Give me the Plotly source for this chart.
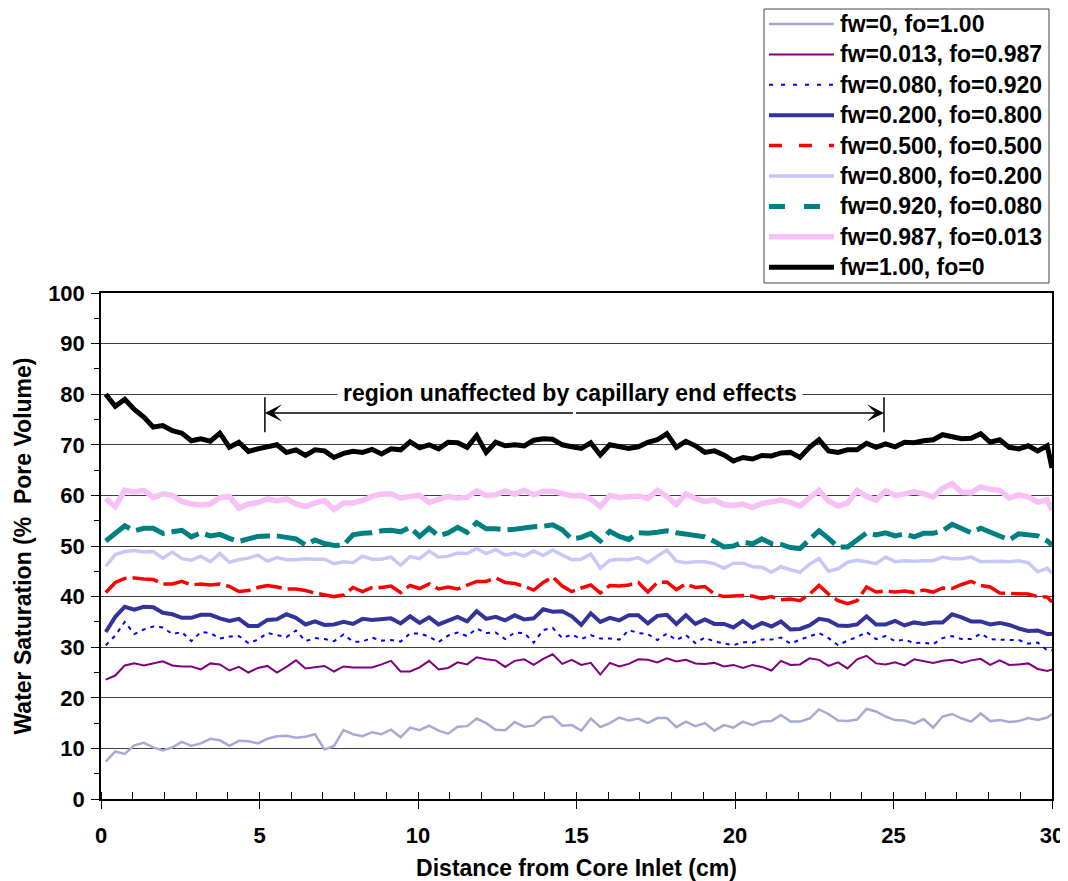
import plotly.graph_objects as go

# x positions (cm) of the sampled profile points
distance_cm = [round(0.15 + 0.3 * i, 2) for i in range(100)] + [30.0]

sw_fw0 = [7.4, 9.4, 8.9, 10.6, 11.1, 10.2, 9.6, 10.2, 11.3, 10.5, 11, 11.9, 11.6, 10.5, 11.5, 11.4, 11, 11.9, 12.4, 12.5,
          12.1, 12.3, 12.8, 9.8, 10.5, 13.6, 12.8, 12.4, 13.2, 12.8, 13.7, 12.2, 14.1, 13.6,
          14.5, 13.5, 12.9, 14.3, 14.4, 15.9, 15, 13.7, 13.6, 15.2, 14.3, 14.5, 16.1, 16.3, 14.5, 14.6, 13.5, 15.9, 14.2, 15,
          16.1, 15.5, 15.9, 15, 16, 16, 14.2, 15.3, 14.4, 15, 13.5, 14.6, 14.1,
          15.3, 14.6, 15.3, 15.4, 16.6, 15.3, 15.3, 15.9, 17.7, 16.8, 15.5, 15.4, 15.7, 17.8, 17.3, 16.3, 15.6, 15.5, 14.9, 15.8,
          14.1, 16.3, 16.8, 15.9, 15.3, 16.9, 15.4, 15.6, 15.2, 15.4, 16, 15.6, 16.1, 16.8]

sw_fw0013 = [23.6, 24.4, 26.4, 26.8, 26.4, 26.8, 27.2, 26.4, 26.2, 26.2, 25.6, 26.8, 26.6, 25.4, 26.1, 25, 25.9, 26.3, 25, 26.1,
             27.4, 25.8, 26.1, 26.3, 25.2, 26.2, 26, 26, 26, 26.6, 27.3, 25.2, 25.2, 26,
             27.3, 25.6, 25.9, 27, 26.6, 28, 27.6, 27.4, 26.1, 27.3, 27.6, 26.5, 27.7, 28.6, 26.7, 27.5, 26.5, 26.9, 24.6, 26.9,
             26.2, 26.7, 27.6, 27.5, 27, 27.8, 27.2, 27.5, 26.8, 26.7, 26.9, 26.2, 26.5,
             25.9, 26.5, 26.1, 25.4, 27.3, 26.5, 26.6, 27.8, 27.5, 26.3, 27, 25.8, 27.6, 28.3, 26.8, 26.6, 27, 26.4, 27.6, 27.2,
             26.9, 27.3, 27.5, 26.9, 27.4, 27.7, 26.5, 27.4, 26.5, 26.6, 26.8, 25.7, 25.3, 25.6]

sw_fw008 = [30.4, 32.3, 35, 32.6, 33.5, 34.1, 33.9, 32.6, 33, 31.2, 33, 32.8, 31.7, 32.1, 32.2, 30.8, 31.5, 32.8, 32.4, 32,
            33.3, 31.2, 31.8, 31.6, 31.2, 32.5, 31.1, 31.1, 31.9, 31.3, 31.4, 31.1, 32.7, 32.7,
            32.1, 31, 32.3, 32.9, 32.2, 33.7, 32.8, 32.9, 31.6, 32.9, 32.8, 30.9, 33.4, 33.8, 31.8, 32.5, 31.6, 32.4, 31.7, 31.7,
            31.5, 33.4, 32.8, 32.6, 31.4, 32.7, 31.4, 32.4, 30.8, 31.9, 31.1, 30.7, 30.4,
            31, 30.9, 31.5, 31.5, 31.9, 30.7, 31.5, 32.2, 32.8, 31.8, 30.4, 31.3, 32, 33, 31.6, 32.2, 31.2, 31.5, 30.8, 30.9,
            30.6, 31.8, 32.2, 31.6, 31.6, 32.7, 31.6, 31.5, 31.4, 31.4, 30.7, 30.9, 29.4, 29.4]

sw_fw020 = [33, 36, 38, 37.4, 38, 37.9, 36.8, 36.5, 35.8, 35.8, 36.4, 36.4, 35.7, 35.2, 35.6, 34.2, 34.2, 35.4, 35.5, 36.5,
            35.8, 34.5, 35.1, 34.4, 34.5, 35, 34.6, 35.6, 35.4, 35.6, 35.7, 34.7, 36.1, 34.8,
            35.9, 34.5, 35.3, 36, 35.1, 37.1, 35.6, 36, 35.3, 36.3, 35.5, 35.7, 37.5, 37, 37.1, 36.1, 34.4, 36.7, 35, 35.8,
            35.3, 36.3, 36.3, 34.7, 36.2, 36.4, 34.6, 36.3, 34.6, 35.5, 34.6, 34.6, 33.9,
            35.2, 33.8, 34.8, 34.1, 35.1, 33.5, 33.6, 34.3, 35.6, 35.3, 34.3, 34.2, 34.5, 36.1, 34.5, 34.5, 35.2, 34.3, 34.9, 34.6,
            34.9, 34.9, 36.5, 35.9, 35.1, 35.1, 34.5, 34.8, 34.4, 33.7, 33.2, 33.3, 32.6, 32.6]

sw_fw050 = [40.8, 42.8, 43.6, 43.7, 43.5, 43.4, 42.5, 42.5, 43, 42.3, 42.5, 42.3, 42.5, 42, 41, 41.2, 41.8, 42.2, 41.9, 41.5,
            41.5, 41.2, 40.7, 40.4, 40, 40.3, 41.8, 41, 41.8, 41.8, 42.1, 40.8, 42.2, 41.6,
            42.5, 41.5, 41.9, 41.5, 42.2, 43, 43, 43.7, 42.8, 42.6, 42, 41.3, 42.8, 43.9, 42.1, 41, 41.7, 42.3, 40.7, 42.2,
            42.1, 42.3, 42.8, 40.9, 42.8, 42.9, 41.4, 42.5, 41.8, 42, 40.5, 40, 40.1,
            40.2, 40.1, 39.6, 40, 39.4, 39.5, 39.2, 40.5, 42.2, 40.5, 39.2, 38.6, 39.2, 41.9, 40.9, 41.1, 40.9, 41.1, 40.8, 41.3,
            40.9, 41.7, 41.6, 42.4, 43, 42.2, 41.9, 40.7, 40.6, 40.5, 40.5, 40, 39.9, 38.9]

sw_fw080 = [46, 48.3, 48.9, 49.1, 48.8, 48.9, 47.6, 48.8, 47.5, 47.2, 48, 46.9, 48.5, 46.8, 47.3, 47.6, 48.2, 47, 47.7, 47.3,
            47.3, 47.5, 47.4, 47.4, 46.5, 46.9, 46.7, 48, 47.4, 47.4, 47.8, 46.2, 47.9, 47.5,
            49, 47.8, 48, 48.6, 48.5, 49.5, 48.5, 49.3, 48.2, 48.6, 48, 49, 48.1, 49.2, 48.2, 47.3, 47.4, 48.4, 45.6, 47.2,
            47.4, 47.3, 47.7, 46.7, 48, 49.2, 47, 46.7, 46.9, 46.9, 46.5, 45.6, 46.6,
            46.6, 45.9, 45.8, 44.8, 45.9, 45.3, 44.8, 46.4, 47.5, 45, 45.5, 46.8, 47.2, 46.9, 46.5, 47.8, 46.9, 47.1, 47, 47.1,
            47.1, 47.8, 47.5, 47.5, 47.8, 46.9, 47, 47, 46.9, 47.1, 46.7, 44.9, 45.6, 44.6]

sw_fw092 = [51, 52.5, 54, 53, 53.5, 53.5, 52.5, 52.8, 53.1, 51.8, 52.6, 52, 52.3, 51.5, 50.9, 51.4, 51.9, 52, 52, 51.7,
            51.4, 50.2, 51.2, 50.5, 50.1, 50.2, 52.2, 52.5, 52.6, 53, 53.1, 52.8, 53.7, 51.9,
            53.5, 52, 52.6, 53.7, 52.7, 54.6, 53.4, 53.4, 53.2, 53.3, 53.6, 53.8, 53.9, 54.2, 53.2, 51.4, 51.7, 52.5, 51, 52.9,
            51.9, 51.3, 52.6, 52.5, 52.7, 53, 52.6, 52.4, 52.1, 51.8, 50.9, 49.8, 50,
            50.8, 50.4, 51.4, 50.5, 50.3, 49.7, 49.5, 51.3, 53, 51.5, 49.8, 49.8, 51.3, 52.6, 52.2, 52.6, 52, 52.4, 51.8, 52.5,
            52.5, 53, 54.3, 53.4, 52.6, 53.5, 52.8, 52, 51.2, 52.4, 52.2, 52, 51, 50.2]

sw_fw0987 = [59.3, 57.8, 61, 60.7, 61, 59.6, 60.3, 60, 58.8, 58.3, 58.1, 58.3, 59.6, 59.8, 57.5, 58.3, 58.6, 59.3, 58.9, 59.3,
             58.3, 57.8, 58.5, 59, 57.2, 58.5, 58.5, 59, 59.8, 60.3, 60.3, 59.5, 59.8, 60,
             58.6, 59.3, 59.8, 59.5, 59.6, 60.9, 60, 60.1, 60.9, 60.2, 61, 60.1, 60.8, 60.8, 60.3, 59.9, 60, 59.3, 57.8, 60,
             59.6, 59.8, 59.9, 59.4, 61, 59.8, 58.2, 60.3, 59.4, 58.8, 59.1, 58.2, 58,
             58.3, 57.6, 58.4, 58.7, 59.1, 58.6, 57.9, 59.5, 61, 58.9, 57.9, 58.5, 61, 59.8, 59.1, 60.9, 60, 60.3, 60.7, 60.3,
             59.7, 61.4, 62.3, 60.6, 60.5, 61.7, 61.2, 61, 59.5, 60.1, 59.7, 58.7, 59.1, 57.1]

sw_fw100 = [80, 77.6, 79, 77, 75.5, 73.5, 73.8, 72.8, 72.3, 70.8, 71.2, 70.7, 72.3, 69.5, 70.5, 68.7, 69.2, 69.5, 70, 68.5,
            69, 67.9, 69, 68.8, 67.5, 68.3, 68.7, 68.5, 69.1, 68.2, 69.2, 69, 70.6, 69.4,
            70, 69.2, 70.5, 70.4, 69.5, 71.8, 68.5, 70.5, 69.8, 70, 69.8, 70.9, 71.2, 71.1, 70, 69.6, 69.3, 70.4, 68, 70,
            69.6, 69.3, 69.6, 70.5, 71, 72.2, 69.5, 70.7, 69.8, 68.5, 68.8, 68, 66.8,
            67.5, 67.2, 67.9, 67.8, 68.4, 68.5, 67.5, 69.5, 71, 68.8, 68.5, 69, 69, 70.3, 69.5, 70.2, 69.6, 70.5, 70.4, 70.8,
            71, 72, 71.5, 71.2, 71.3, 72.2, 70.5, 71, 69.5, 69.2, 69.8, 68.8, 69.8, 65.4]

series_names = ["fw=0, fo=1.00", "fw=0.013, fo=0.987", "fw=0.080, fo=0.920", "fw=0.200, fo=0.800",
                "fw=0.500, fo=0.500", "fw=0.800, fo=0.200", "fw=0.920, fo=0.080", "fw=0.987, fo=0.013",
                "fw=1.00, fo=0"]

region_label = "region unaffected by capillary end effects"
region_start, region_end = 5.17, 24.7

FONT = "Arial, Liberation Sans, sans-serif"

# (colour, width, dash used on the plot, dash used in the legend sample)
styles = [
    ("#a9a9d6", 2.5, "solid", "solid"),
    ("#800080", 2, "solid", "solid"),
    ("#0000ff", 2, "4px,5px", "4px,8px"),
    ("#333399", 4, "solid", "solid"),
    ("#ff0000", 3.5, "26px,6px", "13px,17px"),
    ("#c8c8f8", 3.5, "solid", "solid"),
    ("#008080", 5, "30px,7px", "16px,19px"),
    ("#f7c0f7", 5.5, "solid", "solid"),
    ("#000000", 5, "solid", "solid"),
]
all_series = [sw_fw0, sw_fw0013, sw_fw008, sw_fw020, sw_fw050, sw_fw080, sw_fw092, sw_fw0987, sw_fw100]

fig = go.Figure()
for name, ys, (col, w, dash_plot, dash_leg) in zip(series_names, all_series, styles):
    fig.add_trace(go.Scatter(x=distance_cm, y=ys, mode="lines", name=name, showlegend=False,
                             line=dict(color=col, width=w, dash=dash_plot)))

axis_font = dict(family=FONT, size=22, color="black", weight="bold")

# page body has an 8px margin: figure is sized so the plot lands where the reference has it
PLOT_W, PLOT_H = 951, 506
fig.update_layout(
    width=1060, height=873,
    margin=dict(l=93, r=16, t=285, b=82, autoexpand=False),
    paper_bgcolor="white", plot_bgcolor="white",
    font=dict(family=FONT, color="black"),
    showlegend=False,
    xaxis=dict(range=[0, 30], dtick=5, tick0=0, showgrid=False, zeroline=False, automargin=False,
               showline=True, linecolor="black", linewidth=1.5, mirror=True,
               ticks="outside", ticklen=8, tickcolor="black", tickwidth=1, ticklabelstandoff=8,
               minor=dict(dtick=1, ticks="inside", ticklen=7, tickcolor="black"),
               tickfont=axis_font,
               title=dict(text="Distance from Core Inlet (cm)",
                          font=dict(family=FONT, size=23, color="black", weight="bold"), standoff=13)),
    yaxis=dict(range=[0, 100], dtick=10, tick0=0, showgrid=True, gridcolor="#404040", gridwidth=1,
               zeroline=False, showline=True, linecolor="black", linewidth=1.5, mirror=True, automargin=False,
               ticks="outside", ticklen=8, tickcolor="black", tickwidth=1, ticklabelstandoff=2,
               minor=dict(dtick=5, ticks="outside", ticklen=5, tickcolor="black"),
               tickfont=axis_font,
               title=dict(text="Water Saturation (%\u00a0 Pore Volume)",
                          font=dict(family=FONT, size=23, color="black", weight="bold"), standoff=10)),
)

# ---- legend box (drawn in paper coordinates, above the plot) ----
def px_x(dx):  # pixel offset from plot left -> paper x
    return dx / PLOT_W


def px_y(dy):  # pixel offset above plot top -> paper y
    return 1 + dy / PLOT_H


LEG_LEFT, LEG_RIGHT = 663, 948      # px from plot left
LEG_TOP, LEG_BOTTOM = 284, 10       # px above plot top
ROW0, ROW_STEP = 269, 30.4          # first row centre (px above plot top), spacing
fig.add_shape(type="rect", xref="paper", yref="paper",
              x0=px_x(LEG_LEFT), x1=px_x(LEG_RIGHT), y0=px_y(LEG_BOTTOM), y1=px_y(LEG_TOP),
              line=dict(color="#444444", width=1), fillcolor="white", layer="above")
for i, (name, (col, w, dash_plot, dash_leg)) in enumerate(zip(series_names, styles)):
    yc = px_y(ROW0 - i * ROW_STEP)
    fig.add_shape(type="line", xref="paper", yref="paper", x0=px_x(668), x1=px_x(733), y0=yc, y1=yc,
                  line=dict(color=col, width=w, dash=dash_leg), layer="above")
    fig.add_annotation(xref="paper", yref="paper", x=px_x(737), y=yc, xanchor="left", yanchor="middle",
                       text=name, showarrow=False,
                       font=dict(family=FONT, size=23, color="black", weight="bold"))

# region label with white background (covers the gridline behind it)
mid = (region_start + region_end) / 2
fig.add_annotation(x=mid - 0.15, y=80.2, xref="x", yref="y", text=region_label,
                   showarrow=False, bgcolor="white", borderpad=5,
                   font=dict(family=FONT, size=23, color="black", weight="bold"))
for head in (region_start, region_end):
    fig.add_annotation(x=head, y=76.3, ax=mid, ay=76.3, xref="x", yref="y", axref="x", ayref="y",
                       text="", showarrow=True, arrowhead=3, arrowsize=1.9, arrowwidth=1.5,
                       arrowcolor="black", standoff=0, startstandoff=0)
for xb in (region_start, region_end):
    fig.add_shape(type="line", x0=xb, x1=xb, y0=72.5, y1=79.4, xref="x", yref="y",
                  line=dict(color="black", width=1.5))

fig.write_html("out.html")
